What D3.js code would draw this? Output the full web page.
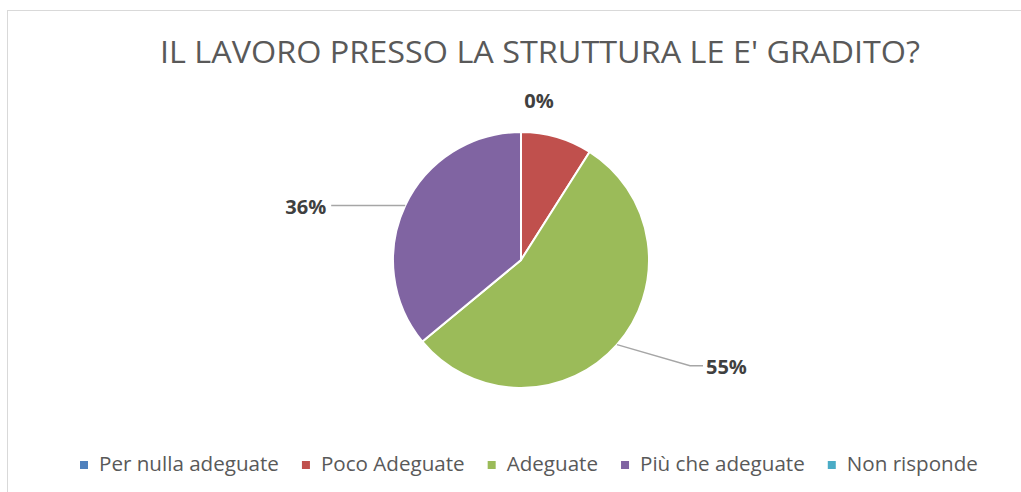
<!DOCTYPE html>
<html>
<head>
<meta charset="utf-8">
<script src="https://cdn.jsdelivr.net/npm/d3@7"></script>
<style>
  body { margin: 0; background: #fff; }
  svg { display: block; font-family: "Open Sans", "Noto Sans", sans-serif; }
</style>
</head>
<body>
<svg id="chart"></svg>
<script>
const width = 1021
const height = 492

// dati
const categories = ['Per nulla adeguate', 'Poco Adeguate', 'Adeguate', 'Più che adeguate', 'Non risponde']
const values = [0, 9, 55, 36, 0]
const labels = ['0%', '', '55%', '36%', '']
const colors = ['#4f81bd', '#c0504d', '#9bbb59', '#8064a2', '#4bacc6']

const svg = d3.select('#chart')
  .attr('width', width)
  .attr('height', height)

// bordo del grafico
svg.append('rect')
  .attr('x', 7.5).attr('y', 10.5)
  .attr('width', width + 10).attr('height', height + 10)
  .attr('fill', 'none')
  .attr('stroke', '#d9d9d9')

svg.append('text')
  .attr('x', 540).attr('y', 63)
  .attr('text-anchor', 'middle')
  .attr('font-size', 31)
  .attr('fill', '#595959')
  .attr('textLength', 760)
  .attr('lengthAdjust', 'spacingAndGlyphs')
  .text("IL LAVORO PRESSO LA STRUTTURA LE E' GRADITO?")

const cx = 521, cy = 260, r = 128

const pie = d3.pie().sort(null).value(d => d)
const arcs = pie(values)
const arc = d3.arc().innerRadius(0).outerRadius(r)

const g = svg.append('g').attr('transform', `translate(${cx},${cy})`)

g.selectAll('path')
  .data(arcs)
  .join('path')
  .attr('d', arc)
  .attr('fill', (d, i) => colors[i])
  .attr('stroke', '#fff')
  .attr('stroke-width', d => d.endAngle > d.startAngle ? 2 : 0)

// etichette con linee guida
const edge = a => {
  const m = (a.startAngle + a.endAngle) / 2
  return [Math.sin(m) * r, -Math.cos(m) * r]
}

const labelG = svg.append('g').attr('transform', `translate(${cx},${cy})`)

arcs.forEach((a, i) => {
  if (!labels[i]) return
  const [ex, ey] = edge(a)
  let pts = null, tx, ty, anchor
  if (ey < -r + 5) {
    // etichetta in alto, senza linea
    tx = ex + 18; ty = ey - 24; anchor = 'middle'
  } else if (ex < 0) {
    pts = [[ex, ey], [ex - 74, ey]]
    tx = ex - 79; ty = ey + 8; anchor = 'end'
  } else {
    pts = [[ex, ey], [ex + 73, ey + 21], [ex + 86, ey + 21]]
    tx = ex + 89; ty = ey + 29; anchor = 'start'
  }
  if (pts) {
    labelG.append('path')
      .attr('d', d3.line()(pts))
      .attr('fill', 'none')
      .attr('stroke', '#a6a6a6')
      .attr('stroke-width', 1.5)
  }
  labelG.append('text')
    .attr('x', tx).attr('y', ty)
    .attr('text-anchor', anchor)
    .attr('font-size', 20)
    .attr('font-weight', 'bold')
    .attr('fill', '#404040')
    .text(labels[i])
})

// legenda
const legend = svg.append('g').attr('transform', 'translate(80,471)')
let lx = 0
categories.forEach((c, i) => {
  const item = legend.append('g').attr('transform', `translate(${lx},0)`)
  item.append('rect')
    .attr('x', 0).attr('y', -10)
    .attr('width', 8).attr('height', 8)
    .attr('fill', colors[i])
  const t = item.append('text')
    .attr('x', 19).attr('y', 0)
    .attr('font-size', 20.6)
    .attr('fill', '#595959')
    .text(c)
  const w = t.node().getComputedTextLength()
  lx += 19 + w + 23
})
</script>
</body>
</html>
